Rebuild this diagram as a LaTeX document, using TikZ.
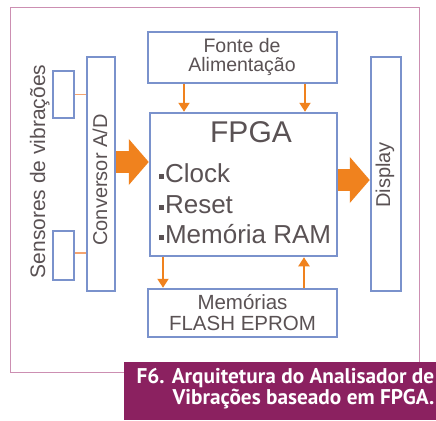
\documentclass[tikz,border=0pt]{standalone}
\usepackage{fontspec}
\setmainfont{Liberation Sans}
\newfontfamily\capfont{PT Sans}
\usetikzlibrary{arrows.meta,calc}
\definecolor{boxblue}{HTML}{7A92CC}
\definecolor{arrorange}{HTML}{F0821E}
\definecolor{linkorange}{HTML}{F4A470}
\definecolor{capurple}{HTML}{8B2160}
\definecolor{framepink}{HTML}{CC8FB2}
\definecolor{txtgray}{HTML}{5A5254}
\begin{document}
\begin{tikzpicture}[x=1pt,y=-1pt,
  blk/.style={draw=boxblue,line width=2.5pt,fill=white,inner sep=0pt},
  boxtext/.style={text=txtgray,align=center,inner sep=0pt,font=\fontsize{19.5}{19}\selectfont},
  sidetext/.style={text=txtgray,rotate=90,anchor=base,font=\fontsize{21}{21}\selectfont},
  itemtext/.style={text=txtgray,anchor=base west,font=\fontsize{26}{26}\selectfont},
  bigarrow/.style={draw=arrorange,line width=22pt,-{Triangle[width=45pt,length=20pt]}},
  smallarrow/.style={draw=arrorange,line width=2pt,-{Triangle[width=11pt,length=9pt]}},
  link/.style={draw=linkorange,line width=1.5pt},
  captext/.style={text=white,align=right,inner sep=0pt,font=\capfont\bfseries\fontsize{21.3}{19.5}\selectfont}]
\useasboundingbox (0,0) rectangle (436,420);
\fill[white] (0,0) rectangle (436,420);
% outer frame
\draw[framepink,line width=0.8pt] (10,7) rectangle (419,372);
% blocks
\node[blk,minimum width=189pt,minimum height=51pt] (fonte) at (242.5,57.5) {};
\node[blk,minimum width=187pt,minimum height=143pt] (fpga) at (243.5,184.5) {};
\node[blk,minimum width=189pt,minimum height=48pt] (mem) at (242.5,313) {};
\node[blk,minimum width=28pt,minimum height=234pt] (conv) at (101,174) {};
\node[blk,minimum width=30pt,minimum height=234pt] (disp) at (386,174) {};
\node[blk,minimum width=21pt,minimum height=47pt] (s1) at (63.5,94.5) {};
\node[blk,minimum width=21pt,minimum height=49pt] (s2) at (63.5,255.5) {};
% texts
\node[boxtext] (tfonte) at (242,57.5) {Fonte de\\Alimentação};
\node[boxtext,font=\fontsize{20.5}{21}\selectfont] (tmem) at (242.5,313) {Memórias\\FLASH EPROM};
\node[text=txtgray,anchor=base,font=\fontsize{30}{30}\selectfont] (tfpga) at (251,142) {FPGA};
\node[itemtext] (i1) at (155,182) {\rule[3pt]{5pt}{5pt}\kern1.5pt Clock};
\node[itemtext] (i2) at (155,213) {\rule[3pt]{5pt}{5pt}\kern1.5pt Reset};
\node[itemtext] (i3) at (155,243) {\rule[3pt]{5pt}{5pt}\kern1.5pt Memória RAM};
\node[sidetext] (tsens) at (45,171.5) {Sensores de vibrações};
\node[sidetext,font=\fontsize{20}{20}\selectfont] (tconv) at (107,180) {Conversor A/D};
\node[sidetext,font=\fontsize{20}{20}\selectfont] (tdisp) at (390,175) {Display};
% sensor links
\draw[link] (s1.east) -- (conv.west |- s1.east);
\coordinate (y2) at (0,253);
\draw[link] (s2.east |- y2) -- (conv.west |- y2);
% big arrows
\coordinate (ya) at (0,162);
\coordinate (yb) at (0,180);
\draw[bigarrow] (conv.east |- ya) -- (fpga.west |- ya);
\draw[bigarrow] (fpga.east |- yb) -- (disp.west |- yb);
% small arrows
\coordinate (xa) at (184,0);
\coordinate (xb) at (305,0);
\coordinate (xc) at (163,0);
\coordinate (xd) at (304,0);
\draw[smallarrow] (fonte.south -| xa) -- (fpga.north -| xa);
\draw[smallarrow] (fonte.south -| xb) -- (fpga.north -| xb);
\draw[smallarrow] (fpga.south -| xc) -- (mem.north -| xc);
\draw[smallarrow] (mem.north -| xd) -- (fpga.south -| xd);
% caption
\fill[capurple] (124,362) rectangle (436,420);
\node[captext,anchor=north east] (cap) at (434.5,368.5) {F6. Arquitetura do Analisador de\\Vibrações baseado em FPGA.};
\end{tikzpicture}
\end{document}
